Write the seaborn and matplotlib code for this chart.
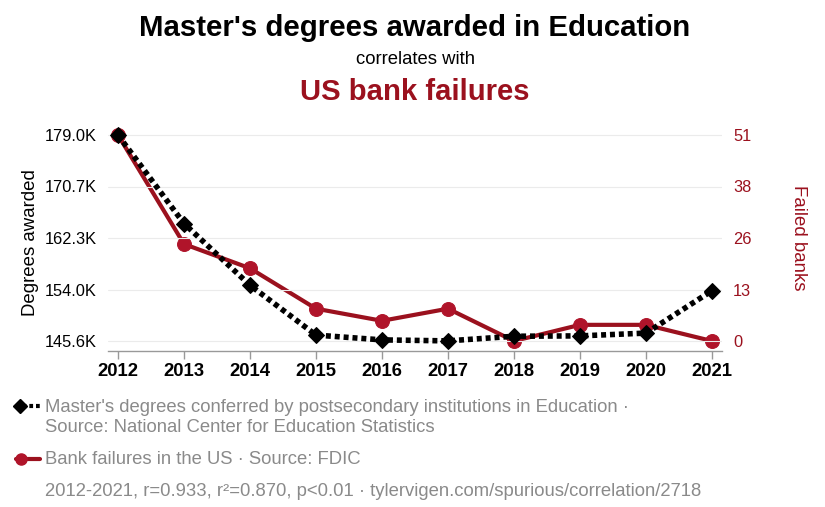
import matplotlib
matplotlib.use("Agg")
import matplotlib.pyplot as plt
import seaborn as sns
import pandas as pd
import numpy as np
from matplotlib.lines import Line2D

years = [2012, 2013, 2014, 2015, 2016, 2017, 2018, 2019, 2020, 2021]
degrees = [178990, 164650, 154640, 146560, 145780, 145620, 146370, 146430, 146880, 153760]
bank_failures = [51, 24, 18, 8, 5, 8, 0, 4, 4, 0]

left_ticks = [145.6e3, 153.95e3, 162.3e3, 170.65e3, 179.0e3]
left_labels = ["145.6K", "154.0K", "162.3K", "170.7K", "179.0K"]
right_ticks = [0, 12.75, 25.5, 38.25, 51]
right_labels = ["0", "13", "26", "38", "51"]

title = "Master's degrees awarded in Education"
subtitle = "correlates with"
title2 = "US bank failures"
legend1a = "Master's degrees conferred by postsecondary institutions in Education ·"
legend1b = "Source: National Center for Education Statistics"
legend2 = "Bank failures in the US · Source: FDIC"
footer = "2012-2021, r=0.933, r²=0.870, p<0.01 · tylervigen.com/spurious/correlation/2718"

RED = "#9b111e"
RED_M = "#b0142a"
GRAY = "#8a8a8a"

df = pd.DataFrame({"year": years, "degrees": degrees, "banks": bank_failures})

sns.set_theme(style="white")
plt.rcParams["font.family"] = ["Liberation Sans", "DejaVu Sans"]

fig = plt.figure(figsize=(8.25, 5.07), dpi=100)
ax = fig.add_axes([108/825, 1-351/507, (722-108)/825, (351-125)/507])
ax2 = ax.twinx()
ax.set_zorder(ax2.get_zorder() + 1)
ax.patch.set_visible(False)

sns.lineplot(data=df, x="year", y="banks", ax=ax2, color=RED, lw=3,
             marker="o", markersize=10, markerfacecolor=RED_M, markeredgecolor=RED_M)
sns.lineplot(data=df, x="year", y="degrees", ax=ax, color="black", lw=4,
             linestyle=(0, (0.9, 0.7)), marker="D", markersize=8.5,
             markerfacecolor="black", markeredgecolor="black")

ax.set_xlim(2012 - 10/66, 2021 + 10/66)
ppk = 206 / 33.4e3
ax.set_ylim(145.6e3 - 10/ppk, 179.0e3 + 10/ppk)
ppb = 206 / 51
ax2.set_ylim(-10/ppb, 51 + 10/ppb)

ax.set_yticks(left_ticks)
ax.set_yticklabels(left_labels)
ax2.set_yticks(right_ticks)
ax2.set_yticklabels(right_labels)
ax.set_xticks(years)
ax.set_xticklabels([str(y) for y in years])

for a in (ax, ax2):
    for s in ("top", "left", "right", "bottom"):
        a.spines[s].set_visible(False)
ax.spines["bottom"].set_visible(True)
ax.spines["bottom"].set_color("#999999")
ax.spines["bottom"].set_linewidth(1)

ax.grid(axis="y", color="#ebebeb", lw=0.8)
ax.set_axisbelow(True)

ax.tick_params(axis="x", bottom=True, length=6, width=1, color="#999999",
               labelsize=13.3, pad=3, labelcolor="black")
for t in ax.get_xticklabels():
    t.set_fontweight("bold")
ax.tick_params(axis="y", left=False, length=0, labelsize=11.8, pad=8, labelcolor="black")
ax2.tick_params(axis="y", right=False, length=0, labelsize=11.8, pad=8, labelcolor=RED)

ax.set_xlabel("")
ax.set_ylabel("Degrees awarded", fontsize=13.4, color="black", labelpad=4)
ax.yaxis.label.set_y(0.478)
ax2.set_ylabel("Failed banks", fontsize=13.4, color=RED, rotation=270, labelpad=40)

fig.text(415/825, 1-28/507, title, ha="center", va="center", fontsize=21.2, fontweight="bold", color="black")
fig.text(415/825, 1-60/507, subtitle, ha="center", va="center", fontsize=13.3, color="black")
fig.text(415/825, 1-92/507, title2, ha="center", va="center", fontsize=21.1, fontweight="bold", color=RED)

# legend handles
fig.add_artist(Line2D([16/825, 40/825], [1-406/507, 1-406/507], color="black", lw=3,
                      linestyle=(0, (0.9, 0.7)), transform=fig.transFigure))
fig.add_artist(Line2D([20/825], [1-406/507], marker="D", markersize=7, color="black",
                      transform=fig.transFigure))
fig.add_artist(Line2D([16/825, 40/825], [1-459/507, 1-459/507], color=RED, lw=3,
                      transform=fig.transFigure))
fig.add_artist(Line2D([21/825], [1-459/507], marker="o", markersize=8, color=RED_M,
                      transform=fig.transFigure))

fs = 13.3
fig.text(45/825, 1-407/507, legend1a, ha="left", va="center", fontsize=fs, color=GRAY)
fig.text(45/825, 1-428/507, legend1b, ha="left", va="center", fontsize=fs, color=GRAY)
fig.text(45/825, 1-459/507, legend2, ha="left", va="center", fontsize=fs, color=GRAY)
fig.text(45/825, 1-492/507, footer, ha="left", va="center", fontsize=fs, color=GRAY)

fig.savefig("out.png", dpi=100)
